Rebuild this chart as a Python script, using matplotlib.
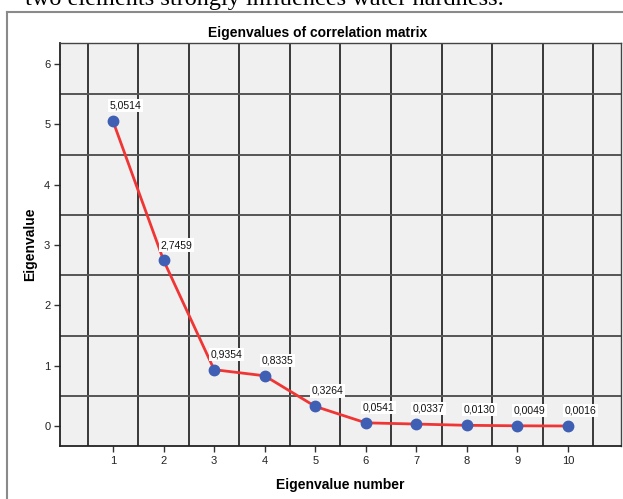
import matplotlib
matplotlib.use("Agg")
import matplotlib.pyplot as plt
from matplotlib.lines import Line2D

numbers = [1, 2, 3, 4, 5, 6, 7, 8, 9, 10]
eigenvalues = [5.0514, 2.7459, 0.9354, 0.8335, 0.3264, 0.0541, 0.0337, 0.0130, 0.0049, 0.0016]
labels = ["5,0514", "2,7459", "0,9354", "0,8335", "0,3264", "0,0541", "0,0337", "0,0130", "0,0049", "0,0016"]
y_ticks = [0, 1, 2, 3, 4, 5, 6]

W, H = 623, 499
fig = plt.figure(figsize=(W / 100, H / 100), dpi=100)
plt.rcParams['font.family'] = ['Liberation Sans', 'DejaVu Sans']

# axes position in pixels: left 60, right 621, top 43, bottom 446
l, r, t, b = 60, 621, 43, 446
ax = fig.add_axes([l / W, 1 - b / H, (r - l) / W, (b - t) / H])
ax.set_facecolor('#f0f0f0')
ax.set_xlim(-0.05, 11.05)
ax.set_ylim(-0.33, 6.35)

for xv in [i + 0.5 for i in range(0, 11)]:
    ax.axvline(xv, color='#2a2a2a', lw=1.3, zorder=1)
for yv in [i + 0.5 for i in range(0, 6)]:
    ax.axhline(yv, color='#555555', lw=1.4, zorder=1)

ax.plot(numbers, eigenvalues, color='#f03535', lw=2, zorder=3)
ax.plot(numbers, eigenvalues, 'o', color='#3f5fb4', ms=7.5, zorder=4, mec='#3f5fb4')

for xv, yv, lab in zip(numbers, eigenvalues, labels):
    ax.annotate(lab, (xv, yv), xytext=(-2.5, 7.5), textcoords='offset points',
                ha='left', va='bottom', fontsize=7.5, color='#111111', zorder=5,
                bbox=dict(boxstyle='square,pad=0.15', fc='white', ec='none'))

ax.set_xticks(numbers)
ax.set_xticklabels([str(n) for n in numbers])
ax.set_yticks(y_ticks)
ax.set_yticklabels([str(v) for v in y_ticks])
ax.tick_params(axis='both', direction='out', length=4, width=1, colors='#333333',
               labelsize=8, labelcolor='#222222', pad=3)
for s in ['left', 'bottom']:
    ax.spines[s].set_color('#222222')
    ax.spines[s].set_linewidth(1.3)
for s in ['top', 'right']:
    ax.spines[s].set_color('#444444')
    ax.spines[s].set_linewidth(1.0)

ax.set_xlabel('Eigenvalue number', fontsize=10, fontweight='bold', labelpad=9)
ax.set_ylabel('Eigenvalue', fontsize=10, fontweight='bold', labelpad=5)
fig.text(318 / W, 1 - 33 / H, 'Eigenvalues of correlation matrix',
         ha='center', va='center', fontsize=10, fontweight='bold')

# outer frame
fig.add_artist(Line2D([7 / W, 7 / W], [0, 1 - 12 / H], transform=fig.transFigure,
                      color='#8a8a8a', lw=1.5))
fig.add_artist(Line2D([7 / W, 1], [1 - 12 / H, 1 - 12 / H], transform=fig.transFigure,
                      color='#8a8a8a', lw=1.5))

# cut-off text from the page above
fig.text(25 / W, 1 - 5 / H, 'two elements strongly influences water hardness.',
         ha='left', va='baseline', fontsize=17.5, family=['Liberation Serif'])

fig.savefig('out.png', dpi=100)
